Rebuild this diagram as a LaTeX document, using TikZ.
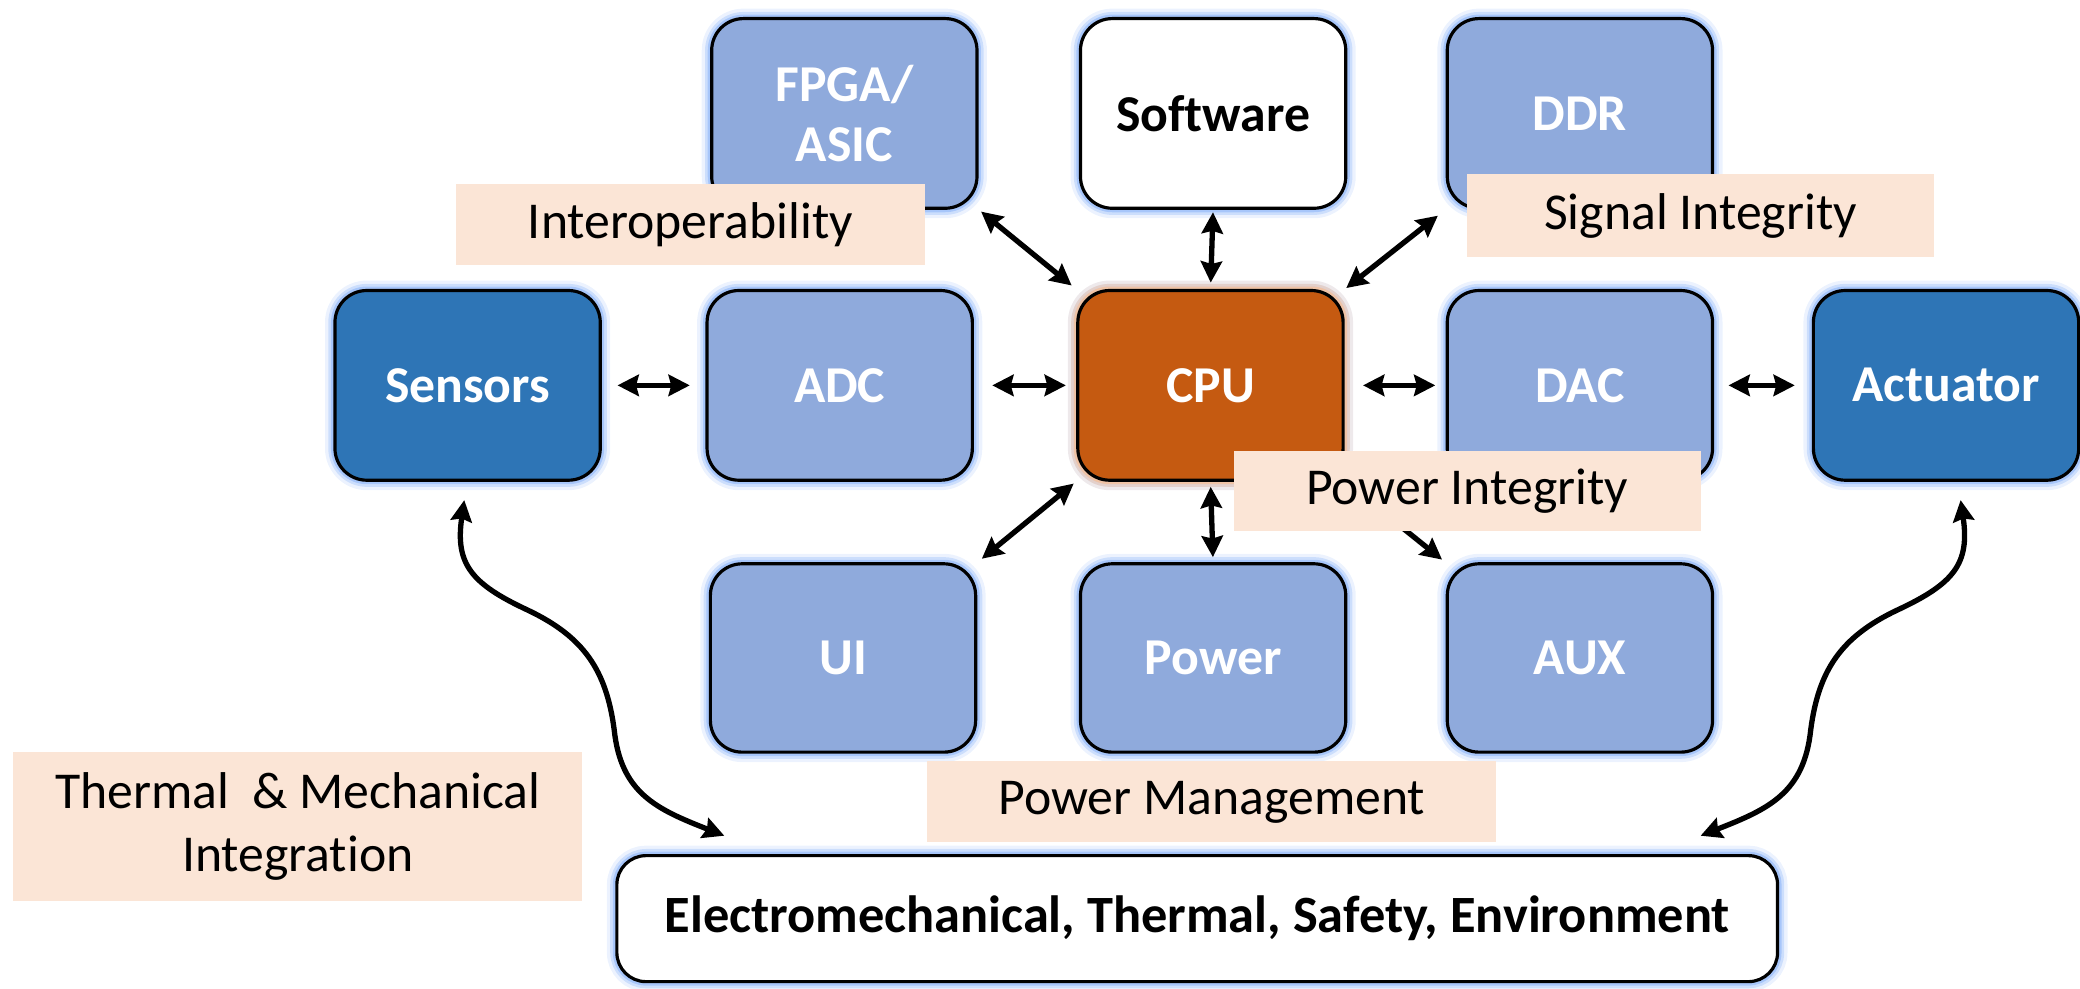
\documentclass[tikz,border=0pt]{standalone}
\usepackage{fontspec}
\setmainfont[Ligatures=NoCommon]{Carlito}
\usetikzlibrary{arrows.meta}
\definecolor{boxlight}{HTML}{8FAADC}
\definecolor{boxdark}{HTML}{2E75B6}
\definecolor{cpuc}{HTML}{C55A11}
\definecolor{peach}{HTML}{FBE5D6}
\definecolor{glowb}{HTML}{9EC0FA}
\definecolor{glowo}{HTML}{F8C49E}
\tikzset{
  glow/.style={
    preaction={draw=#1, draw opacity=0.2, line width=15pt},
    preaction={draw=#1, draw opacity=0.4, line width=10pt},
    preaction={draw=#1, draw opacity=0.8, line width=6pt}},
  box/.style={rounded corners=24pt, draw=black, line width=2.4pt,
    minimum width=200pt, minimum height=143pt, inner sep=0pt, outer sep=0pt,
    font=\fontsize{39}{45}\selectfont\bfseries, text=white, align=center,
    fill=boxlight, glow=glowb},
  darkbox/.style={box, fill=boxdark},
  cpubox/.style={box, fill=cpuc, glow=glowo},
  whitebox/.style={box, fill=white, text=black},
  lbl/.style={fill=peach, inner sep=0pt, outer sep=0pt, align=center,
    font=\fontsize{39}{48}\selectfont},
  dbl/.style={{Stealth[length=16pt,width=16pt,inset=2pt]}-{Stealth[length=16pt,width=16pt,inset=2pt]}, line width=4pt, black},
}
\begin{document}
\begin{tikzpicture}[x=1pt,y=-1pt]
\useasboundingbox (0,0) rectangle (1568,745);
% boxes
\node[box] (fpga) at (636.5,85.5) {FPGA/\\ASIC};
\node[whitebox] (sw) at (914.5,85.5) {Software};
\node[box] (ddr) at (1191,85.5) {DDR};
\node[darkbox] (sensors) at (352.5,290.5) {Sensors};
\node[box] (adc) at (633,290.5) {ADC};
\node[cpubox] (cpu) at (912.5,290.5) {CPU};
\node[box] (dac) at (1191,290.5) {DAC};
\node[darkbox] (act) at (1467,290.5) {Actuator};
\node[box, minimum height=142pt] (ui) at (635.5,496) {UI};
\node[box, minimum height=142pt] (pwr) at (914.5,496) {Power};
\node[box, minimum height=142pt] (aux) at (1191,496) {AUX};
\node[whitebox, minimum width=875pt, minimum height=95pt, rounded corners=22pt, font=\fontsize{39.5}{45}\selectfont\bfseries] (emt) at (902.5,692.5) {Electromechanical, Thermal, Safety, Environment};
% connectors
\draw[dbl, shorten <=13pt, shorten >=13pt] (sensors) -- (adc);
\draw[dbl, shorten <=15pt, shorten >=9pt] (adc) -- (cpu);
\draw[dbl, shorten <=15pt, shorten >=9pt] (cpu) -- (dac);
\draw[dbl, shorten <=12pt, shorten >=14pt] (dac) -- (act);
\draw[dbl, shorten <=4pt, shorten >=6pt] (fpga.south east) -- (cpu.north west);
\draw[dbl, shorten <=3pt, shorten >=6pt] (sw.south) -- (cpu.north);
\draw[dbl, shorten <=9pt, shorten >=3pt] (ddr.south west) -- (cpu.north east);
\draw[dbl, shorten <=6pt, shorten >=4pt] (ui.north east) -- (cpu.south west);
\draw[dbl, shorten <=5pt, shorten >=5pt] (pwr.north) -- (cpu.south);
\draw[dbl, shorten <=5pt, shorten >=6pt] (aux.north west) -- (cpu.south east);
\coordinate (s1) at (350,377);
\coordinate (e1) at (546,630);
\coordinate (s2) at (1478,377);
\coordinate (e2) at (1282,630);
\draw[dbl] (s1) .. controls (343,425) and (355,440) .. (398,460)
  .. controls (440,480) and (457,505) .. (463,550)
  .. controls (468,598) and (495,610) .. (e1);
\draw[dbl] (s2) .. controls (1485,425) and (1473,440) .. (1430,460)
  .. controls (1388,480) and (1371,505) .. (1365,550)
  .. controls (1360,598) and (1333,610) .. (e2);
% labels
\node[lbl, minimum width=353pt, minimum height=61pt] (interop) at (520.5,169.5) {Interoperability};
\node[lbl, minimum width=352pt, minimum height=63pt] (sigint) at (1282,162.5) {Signal Integrity};
\node[lbl, minimum width=352pt, minimum height=60pt] (pwrint) at (1106,370) {Power Integrity};
\node[lbl, minimum width=429pt, minimum height=61pt] (pwrmgmt) at (913.5,604.5) {Power Management};
\node[lbl, minimum width=429pt, minimum height=112pt] (thermal) at (224.5,623) {Thermal\ \ \&\ Mechanical\\Integration};
\end{tikzpicture}
\end{document}
